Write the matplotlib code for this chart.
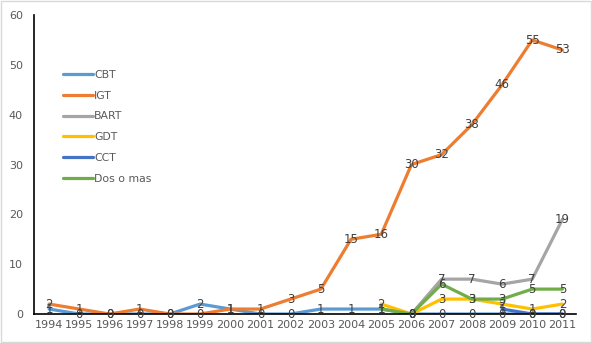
import matplotlib.pyplot as plt
import numpy as np

nan = np.nan

years = [str(y) for y in range(1994, 2012)]

cbt = [1, 0, 0, 0, 0, 2, 1, 0, 0, 1, 1, 1, 0, 0, 0, 0, 0, 0]
igt = [2, 1, 0, 1, 0, 0, 1, 1, 3, 5, 15, 16, 30, 32, 38, 46, 55, 53]
bart = [nan] * 12 + [0, 7, 7, 6, 7, 19]
gdt = [nan] * 11 + [2, 0, 3, 3, 2, 1, 2]
cct = [nan] * 15 + [1, 0, 0]
dos_o_mas = [nan] * 11 + [1, 0, 6, 3, 3, 5, 5]

series = [
    ("CBT", cbt, "#5B9BD5"),
    ("IGT", igt, "#ED7D31"),
    ("BART", bart, "#A5A5A5"),
    ("GDT", gdt, "#FFC000"),
    ("CCT", cct, "#4472C4"),
    ("Dos o mas", dos_o_mas, "#70AD47"),
]

fig = plt.figure(figsize=(5.92, 3.43), dpi=100)
ax = fig.add_axes([0.0574, 0.0845, 0.9156, 0.8715])

x = np.arange(len(years))
for name, vals, color in series:
    ax.plot(x, vals, color=color, lw=2.3, label=name, solid_capstyle='round')

# data labels centred on each point
for name, vals, color in series:
    for xi, v in zip(x, vals):
        if np.isnan(v):
            continue
        ax.text(xi, v, f"{int(v)}", ha='center', va='center',
                fontsize=8.5, color='#404040', zorder=5)

ax.set_xlim(-0.5, 17.45)
ax.set_ylim(0, 60)
ax.set_xticks(x)
ax.set_xticklabels(years)
ax.set_yticks(range(0, 61, 10))
ax.tick_params(length=0, labelsize=8, colors='#595959', pad=4)
ax.tick_params(axis='y', pad=8)
for s in ['top', 'right']:
    ax.spines[s].set_visible(False)
for s in ['left', 'bottom']:
    ax.spines[s].set_color('black')
    ax.spines[s].set_linewidth(1.2)

ax.legend(loc='upper left', bbox_to_anchor=(0.035, 0.85), frameon=False,
          fontsize=7.8, labelcolor='#595959', handlelength=2.8,
          handletextpad=0.1, labelspacing=1.0)

fig.patches.append(plt.Rectangle((0.002, 0.003), 0.996, 0.994, transform=fig.transFigure,
                                 fill=False, edgecolor='#D9D9D9', lw=1))

fig.savefig("out.png", dpi=100)
